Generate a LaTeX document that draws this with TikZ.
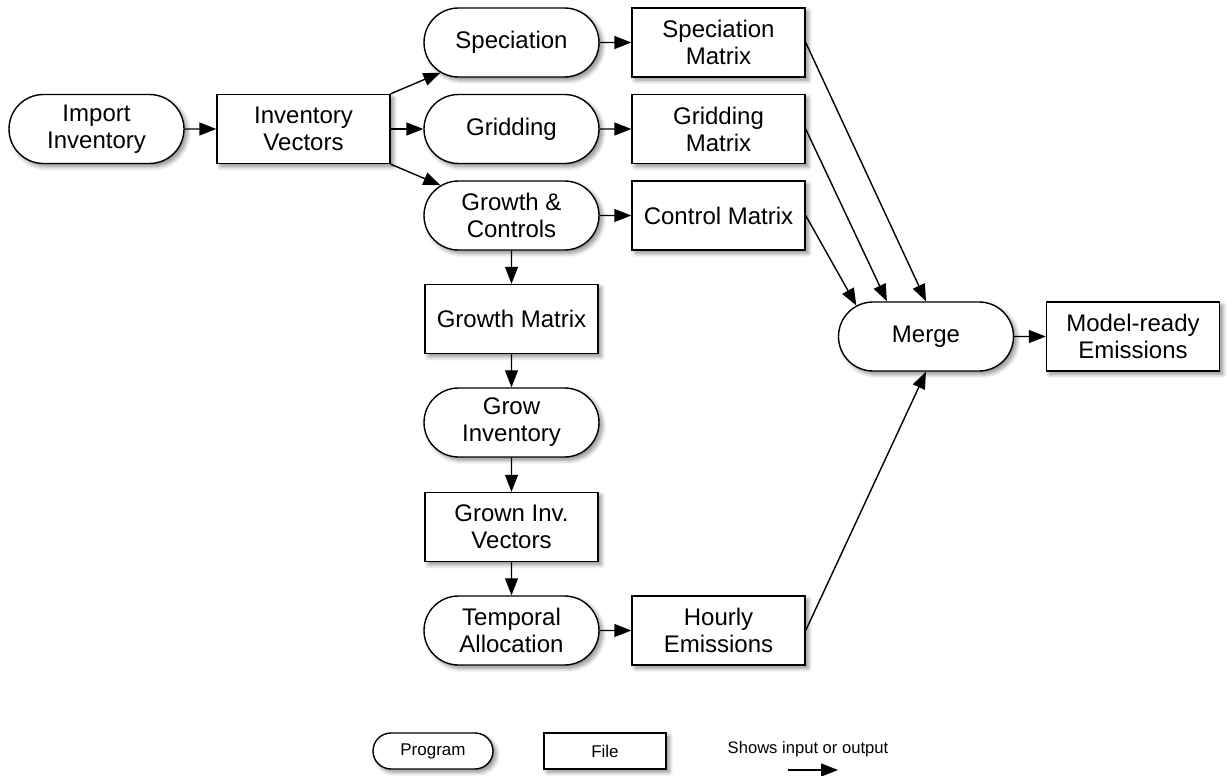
\documentclass[tikz,border=0pt]{standalone}
\usepackage{fontspec}
\setmainfont{Liberation Sans}
\usetikzlibrary{arrows.meta,positioning,shapes.misc,shadows.blur}

\begin{document}
\begin{tikzpicture}[x=0.5pt,y=-0.5pt,
		prog/.style={rounded rectangle,draw,line width=0.7pt,fill=white,align=center,
			minimum width=91.5pt,minimum height=34.5pt,inner sep=2pt,
			font=\fontsize{12}{13.5}\selectfont,
			blur shadow={shadow xshift=1.6pt,shadow yshift=-1.6pt,shadow blur steps=6,shadow opacity=45}},
		file/.style={rectangle,draw,line width=0.7pt,fill=white,align=center,
			minimum width=86.5pt,minimum height=34.5pt,inner sep=2pt,
			font=\fontsize{12}{13.5}\selectfont,
			blur shadow={shadow xshift=1.6pt,shadow yshift=-1.6pt,shadow blur steps=6,shadow opacity=45}},
		small/.style={minimum height=18pt,font=\fontsize{8.5}{10}\selectfont},
		flow/.style={-{Triangle[length=8.5pt,width=6.5pt]},line width=0.7pt}]
			\useasboundingbox (0,0) rectangle (1227,776);

			\node[prog] (imp) at (96.5,129) {Import\\Inventory};
			\node[file] (vec) at (303.5,129) {Inventory\\Vectors};

			\node[prog] (spec) at (511.5,42.5) {Speciation};
			\node[file] (specm) at (718.5,42.5) {Speciation\\Matrix};
			\node[prog] (grid) at (511.5,129) {Gridding};
			\node[file] (gridm) at (718.5,129) {Gridding\\Matrix};
			\node[prog] (grow) at (511.5,215.5) {Growth \&\\Controls};
			\node[file] (ctrl) at (718.5,215.5) {Control Matrix};

			\node[file] (growm) at (511.5,319) {Growth Matrix};
			\node[prog] (growinv) at (511.5,422.5) {Grow\\Inventory};
			\node[file] (grownvec) at (511.5,527) {Grown Inv.\\Vectors};
			\node[prog] (temp) at (511.5,630.5) {Temporal\\Allocation};
			\node[file] (hourly) at (718.5,630.5) {Hourly\\Emissions};

			\node[prog] (merge) at (926,336.5) {Merge};
			\node[file] (model) at (1133,336.5) {Model-ready\\Emissions};

			\draw[flow] (imp) -- (vec);
			\draw[flow] (vec.north east) -- (spec);
			\draw[flow] (vec) -- (grid);
			\draw[flow] (vec.south east) -- (grow);
			\draw[flow] (spec) -- (specm);
			\draw[flow] (grid) -- (gridm);
			\draw[flow] (grow) -- (ctrl);
			\draw[flow] (grow) -- (growm);
			\draw[flow] (growm) -- (growinv);
			\draw[flow] (growinv) -- (grownvec);
			\draw[flow] (grownvec) -- (temp);
			\draw[flow] (temp) -- (hourly);
			\draw[flow] (specm.east) -- (merge.north);
			\draw[flow] (gridm.east) -- (merge.138);
			\draw[flow] (ctrl.east) -- (merge.156);
			\draw[flow] (hourly.east) -- (merge.south);
			\draw[flow] (merge) -- (model);

			% legend
			\node[prog,small,minimum width=64pt] (legprog) at (433,751) {Program};
			\node[file,small,minimum width=61pt] (legfile) at (605,751) {File};
			\node[font=\fontsize{8.3}{10}\selectfont] (legtxt) at (808,749) {Shows input or output};
			\coordinate (legA) at (788,770);
			\coordinate (legB) at (838,770);
			\draw[flow] (legA) -- (legB);
		\end{tikzpicture}
\end{document}
